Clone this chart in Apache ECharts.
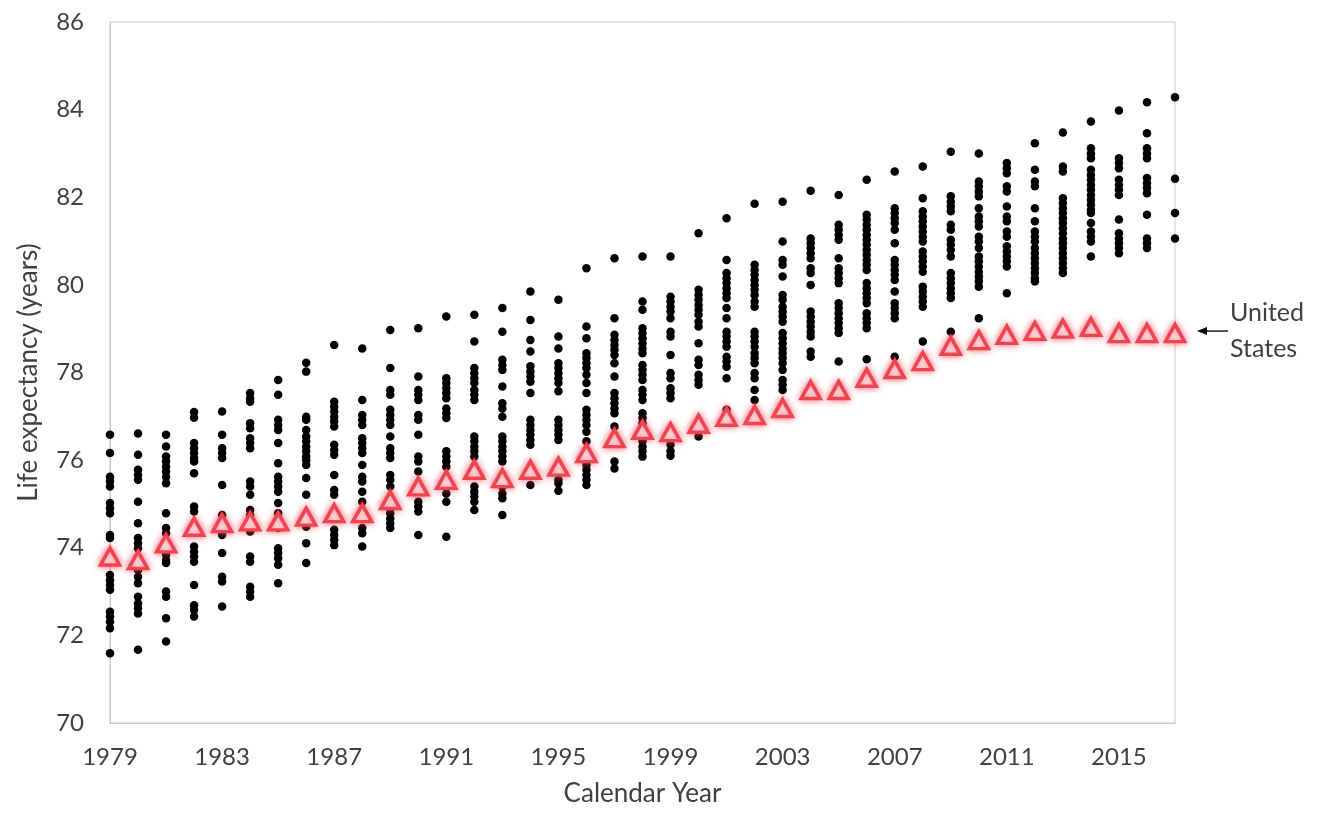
<!DOCTYPE html>
<html>
<head>
<meta charset="utf-8">
<title>Life expectancy by calendar year</title>
<script src="https://cdn.jsdelivr.net/npm/echarts@6/dist/echarts.min.js"></script>
<style>
  html, body { margin: 0; padding: 0; background: #fff; }
  #chart { width: 1322px; height: 818px; }
</style>
</head>
<body>
<div id="chart"></div>
<script>
// calendar years on the x axis
const years = [
  '1979', '1980', '1981', '1982', '1983', '1984', '1985', '1986', '1987', '1988',
  '1989', '1990', '1991', '1992', '1993', '1994', '1995', '1996', '1997', '1998',
  '1999', '2000', '2001', '2002', '2003', '2004', '2005', '2006', '2007', '2008',
  '2009', '2010', '2011', '2012', '2013', '2014', '2015', '2016', '2017'
];

// United States life expectancy (triangles)
const usLife = [
  73.8, 73.72, 74.1, 74.48, 74.56, 74.6, 74.6, 74.71, 74.79, 74.79,
  75.09, 75.4, 75.55, 75.78, 75.59, 75.78, 75.85, 76.16, 76.5, 76.69,
  76.64, 76.83, 76.99, 77.03, 77.19, 77.6, 77.6, 77.88, 78.08, 78.26,
  78.61, 78.74, 78.86, 78.95, 79.0, 79.04, 78.9, 78.9, 78.9
];

// other countries, one list per year (black dots)
const otherLife = [
  [76.58, 76.16, 75.62, 75.51, 75.40, 75.02, 74.90, 74.79, 74.29, 74.22, 73.38, 73.26, 73.15, 73.04, 72.54, 72.43, 72.31, 72.16, 71.59],
  [76.61, 76.12, 75.78, 75.66, 75.55, 75.05, 74.56, 74.22, 74.10, 73.99, 73.49, 73.34, 73.19, 72.88, 72.73, 72.62, 72.50, 71.67],
  [76.58, 76.31, 76.08, 75.97, 75.85, 75.74, 75.62, 75.47, 74.79, 74.45, 74.33, 73.84, 73.72, 73.65, 73.00, 72.88, 72.39, 71.86],
  [77.10, 76.97, 76.39, 76.27, 76.16, 76.05, 75.97, 75.70, 74.94, 74.83, 74.03, 73.91, 73.80, 73.68, 73.15, 72.69, 72.58, 72.43],
  [77.11, 76.58, 76.27, 76.16, 76.05, 75.43, 74.75, 74.29, 73.88, 73.34, 73.23, 72.66],
  [77.53, 77.41, 77.33, 76.84, 76.73, 76.50, 76.39, 76.27, 75.51, 75.40, 75.21, 74.86, 74.75, 74.37, 73.80, 73.68, 73.11, 73.00, 72.88],
  [77.83, 77.49, 76.92, 76.80, 76.69, 76.39, 75.93, 75.62, 75.51, 75.40, 75.28, 75.02, 74.79, 74.45, 73.99, 73.88, 73.76, 73.61, 73.19],
  [78.22, 78.02, 76.99, 76.92, 76.69, 76.54, 76.43, 76.31, 76.20, 76.08, 76.00, 75.89, 75.59, 75.21, 74.75, 74.48, 74.10, 73.65],
  [78.63, 77.33, 77.22, 77.11, 76.99, 76.88, 76.77, 76.35, 76.23, 76.12, 75.66, 75.32, 75.21, 74.79, 74.41, 74.29, 74.18, 74.06],
  [78.55, 77.37, 77.03, 76.92, 76.80, 76.50, 76.39, 76.27, 76.16, 75.89, 75.62, 75.51, 75.28, 75.05, 74.83, 74.45, 74.33, 74.03],
  [78.97, 78.10, 77.60, 77.49, 77.15, 77.03, 76.92, 76.80, 76.54, 76.27, 76.16, 76.05, 75.66, 75.55, 75.40, 74.90, 74.79, 74.67, 74.56, 74.45],
  [79.01, 77.91, 77.60, 77.49, 77.37, 77.03, 76.92, 76.58, 76.08, 75.97, 75.74, 75.43, 75.05, 74.94, 74.83, 74.29],
  [79.28, 77.87, 77.76, 77.64, 77.53, 77.41, 77.18, 77.07, 76.96, 76.20, 76.08, 75.97, 75.85, 75.40, 75.24, 75.05, 74.25],
  [79.32, 78.71, 78.10, 77.99, 77.87, 77.76, 77.60, 77.49, 77.37, 76.54, 76.43, 76.31, 76.20, 76.08, 75.85, 75.40, 75.28, 75.17, 75.05, 74.86],
  [79.47, 78.93, 78.29, 78.17, 78.06, 77.68, 77.30, 77.18, 76.99, 76.54, 76.43, 76.31, 76.20, 76.08, 75.97, 75.51, 75.40, 75.24, 75.13, 74.75],
  [79.85, 79.20, 78.74, 78.48, 78.14, 78.02, 77.91, 77.79, 77.53, 76.92, 76.80, 76.69, 76.58, 76.46, 76.35, 75.74, 75.43],
  [79.66, 78.82, 78.55, 78.21, 78.10, 77.99, 77.87, 77.76, 77.57, 76.92, 76.80, 76.69, 76.58, 76.46, 75.55, 75.47, 75.30],
  [80.38, 79.05, 78.78, 78.44, 78.33, 78.21, 78.10, 77.95, 77.76, 77.53, 77.15, 77.03, 76.92, 76.80, 76.65, 76.43, 75.89, 75.78, 75.66, 75.55, 75.43],
  [80.61, 79.24, 78.86, 78.74, 78.63, 78.52, 78.40, 78.21, 77.91, 77.53, 77.41, 77.30, 77.18, 77.07, 76.77, 75.97, 75.81],
  [80.65, 79.62, 79.43, 79.01, 78.90, 78.78, 78.67, 78.55, 78.44, 78.17, 78.06, 77.95, 77.83, 77.60, 77.49, 77.37, 77.07, 76.96, 76.84, 76.54, 76.43, 76.31, 76.20, 76.08],
  [80.65, 79.73, 79.62, 79.50, 79.39, 79.24, 78.93, 78.82, 78.40, 77.99, 77.87, 77.64, 77.53, 77.41, 76.35, 76.20, 76.10],
  [81.18, 79.89, 79.77, 79.66, 79.54, 79.43, 79.32, 79.16, 79.05, 78.67, 78.29, 78.17, 77.95, 77.83, 77.72, 76.54],
  [81.52, 80.57, 80.27, 80.15, 80.04, 79.92, 79.81, 79.70, 79.47, 79.24, 78.93, 78.82, 78.71, 78.59, 78.36, 78.25, 78.13, 77.87, 77.15],
  [81.85, 80.46, 80.34, 80.23, 80.11, 80.00, 79.89, 79.77, 79.62, 79.50, 78.93, 78.82, 78.71, 78.59, 78.44, 78.33, 78.21, 77.99, 77.87, 77.60, 77.37],
  [81.90, 80.99, 80.57, 80.46, 80.19, 79.77, 79.66, 79.50, 79.39, 79.28, 79.16, 78.90, 78.78, 78.67, 78.55, 78.44, 78.33, 78.21, 78.06, 77.83, 77.72, 77.60],
  [82.15, 81.06, 80.95, 80.84, 80.72, 80.61, 80.38, 80.27, 80.00, 79.39, 79.28, 79.16, 79.05, 78.93, 78.82, 78.48, 78.36],
  [82.05, 81.37, 81.26, 81.14, 81.03, 80.61, 80.38, 80.27, 80.15, 80.04, 79.58, 79.47, 79.35, 79.24, 79.13, 79.01, 78.90, 78.25],
  [82.40, 81.60, 81.49, 81.37, 81.26, 81.14, 81.03, 80.92, 80.80, 80.69, 80.57, 80.46, 80.34, 80.04, 79.92, 79.81, 79.70, 79.58, 79.35, 79.24, 79.13, 79.01, 78.30],
  [82.59, 81.75, 81.64, 81.52, 81.41, 81.26, 80.95, 80.57, 80.46, 80.34, 80.23, 80.11, 79.85, 79.58, 79.47, 79.35, 79.24, 78.36],
  [82.70, 81.98, 81.68, 81.56, 81.45, 81.33, 81.22, 81.10, 80.99, 80.76, 80.65, 80.54, 80.42, 80.30, 79.96, 79.85, 79.73, 79.62, 79.50, 78.71],
  [83.04, 82.02, 81.90, 81.79, 81.68, 81.37, 81.26, 81.03, 80.92, 80.80, 80.65, 80.27, 80.15, 80.04, 79.92, 79.81, 79.70, 78.93],
  [83.00, 82.36, 82.25, 82.13, 82.02, 81.75, 81.56, 81.45, 81.33, 81.10, 80.99, 80.84, 80.65, 80.54, 80.42, 80.30, 80.19, 80.08, 79.96, 79.24],
  [82.78, 82.66, 82.55, 82.25, 82.13, 81.79, 81.56, 81.45, 81.22, 81.10, 80.88, 80.76, 80.65, 80.54, 80.42, 79.81],
  [83.23, 82.63, 82.36, 82.25, 81.75, 81.45, 81.22, 81.10, 80.99, 80.84, 80.72, 80.61, 80.50, 80.38, 80.27, 80.15, 80.08],
  [83.48, 82.70, 82.59, 81.98, 81.87, 81.75, 81.64, 81.52, 81.41, 81.29, 81.18, 81.06, 80.95, 80.84, 80.72, 80.61, 80.50, 80.38, 80.27],
  [83.73, 83.12, 83.00, 82.89, 82.63, 82.51, 82.40, 82.28, 82.17, 82.05, 81.94, 81.83, 81.71, 81.64, 81.41, 81.22, 81.10, 80.99, 80.65],
  [83.98, 82.89, 82.78, 82.66, 82.40, 82.28, 82.17, 82.05, 81.49, 81.18, 81.06, 80.95, 80.84, 80.72],
  [84.17, 83.46, 83.12, 83.00, 82.89, 82.44, 82.32, 82.21, 82.09, 81.60, 81.06, 80.95, 80.84],
  [84.28, 82.42, 81.64, 81.06]
];

const yTicks = { min: 70, max: 86, step: 2 };

const textColor = '#404040';
const fontFamily = 'Lato, "Open Sans", sans-serif';

const chart = echarts.init(document.getElementById('chart'));

// flatten dots into [yearIndex, value]
const dotData = [];
otherLife.forEach((vals, i) => {
  vals.forEach(v => dotData.push([i, v]));
});
const usData = usLife.map((v, i) => [i, v]);

chart.setOption({
  animation: false,
  backgroundColor: '#fff',
  grid: {
    left: 110,
    right: 147,
    top: 22,
    bottom: 95,
    show: true,
    borderColor: '#c8c8c8',
    borderWidth: 1
  },
  xAxis: {
    type: 'category',
    data: years,
    boundaryGap: false,
    name: 'Calendar Year',
    nameLocation: 'middle',
    nameGap: 58,
    nameTextStyle: { color: textColor, fontSize: 26, fontFamily: fontFamily },
    axisLine: { show: true, lineStyle: { color: '#c8c8c8' } },
    axisTick: { show: false },
    axisLabel: {
      interval: 3,
      color: textColor,
      fontSize: 24,
      fontFamily: fontFamily,
      margin: 22
    },
    splitLine: { show: false }
  },
  yAxis: {
    type: 'value',
    min: yTicks.min,
    max: yTicks.max,
    interval: yTicks.step,
    name: 'Life expectancy (years)',
    nameLocation: 'middle',
    nameGap: 68,
    nameTextStyle: { color: textColor, fontSize: 26, fontFamily: fontFamily },
    axisLine: { show: true, lineStyle: { color: '#c8c8c8' } },
    axisTick: { show: false },
    axisLabel: {
      color: textColor,
      fontSize: 24,
      fontFamily: fontFamily,
      margin: 26
    },
    splitLine: { show: false }
  },
  series: [
    {
      name: 'Other countries',
      type: 'scatter',
      data: dotData,
      symbol: 'circle',
      symbolSize: 8.5,
      itemStyle: { color: '#000', opacity: 1 },
      z: 2
    },
    {
      name: 'United States',
      type: 'scatter',
      data: usData,
      symbol: 'triangle',
      symbolSize: [19, 17],
      itemStyle: {
        color: '#fff',
        borderColor: '#ee4452',
        borderWidth: 3.5,
        shadowBlur: 7,
        shadowColor: 'rgba(240, 70, 85, 0.75)',
        opacity: 1
      },
      z: 3
    }
  ]
});

// "United States" callout next to the last triangle
const last = chart.convertToPixel({ gridIndex: 0 }, [usLife.length - 1, usLife[usLife.length - 1]]);
const ax = last[0], ay = last[1] - 2;
chart.setOption({
  graphic: [
    {
      type: 'line',
      shape: { x1: ax + 53, y1: ay, x2: ax + 30, y2: ay },
      style: { stroke: '#000', lineWidth: 1.3 }
    },
    {
      type: 'polygon',
      shape: { points: [[ax + 22, ay], [ax + 32, ay - 4], [ax + 32, ay + 4]] },
      style: { fill: '#000' }
    },
    {
      type: 'text',
      x: ax + 55,
      y: ay,
      style: {
        text: 'United\nStates',
        fill: textColor,
        font: '25px ' + fontFamily,
        lineHeight: 36,
        verticalAlign: 'middle',
        align: 'left'
      }
    }
  ]
});
</script>
</body>
</html>
